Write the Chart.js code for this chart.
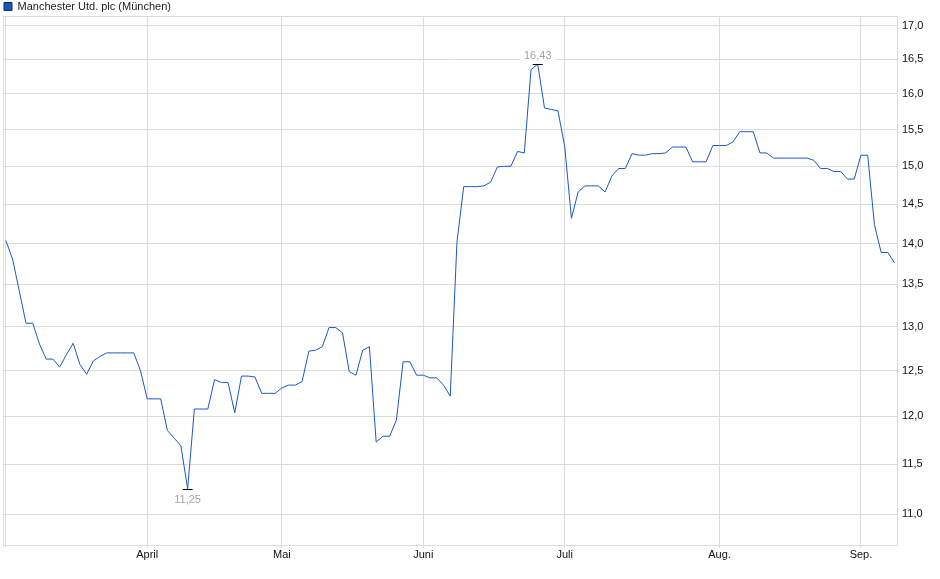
<!DOCTYPE html>
<html lang="de">
<head>
<meta charset="UTF-8">
<title>Manchester Utd. plc (München)</title>
<script src="https://cdn.jsdelivr.net/npm/chart.js"></script>
<style>
    body { margin: 0; background: #fff; }
    #wrap { width: 940px; height: 579px; }
</style>
</head>
<body>
<div id="wrap"><canvas id="chart" width="940" height="579"></canvas></div>
<script>
const seriesName = 'Manchester Utd. plc (München)';

// prices per trading day (index 0 = first day shown)
const prices = [
    14.04, 13.81, 13.42, 13.04, 13.04, 12.80, 12.63, 12.63, 12.54, 12.68,
    12.81, 12.57, 12.46, 12.61, 12.66, 12.70, 12.70, 12.70, 12.70, 12.70,
    12.50, 12.19, 12.19, 12.19, 11.85, 11.77, 11.69, 11.25, 12.08, 12.08,
    12.08, 12.40, 12.37, 12.37, 12.04, 12.44, 12.44, 12.43, 12.25, 12.25,
    12.25, 12.31, 12.34, 12.34, 12.38, 12.72, 12.73, 12.77, 12.99, 12.99,
    12.93, 12.49, 12.45, 12.73, 12.77, 11.73, 11.79, 11.79, 11.96, 12.60,
    12.60, 12.45, 12.45, 12.42, 12.42, 12.34, 12.22, 14.02, 14.73, 14.73,
    14.73, 14.74, 14.79, 14.99, 15.00, 15.00, 15.20, 15.18, 16.35, 16.43,
    15.80, 15.78, 15.76, 15.27, 14.32, 14.66, 14.74, 14.74, 14.74, 14.66,
    14.87, 14.97, 14.97, 15.17, 15.15, 15.15, 15.17, 15.17, 15.18, 15.26,
    15.26, 15.26, 15.06, 15.06, 15.06, 15.28, 15.28, 15.28, 15.33, 15.47,
    15.47, 15.47, 15.18, 15.18, 15.11, 15.11, 15.11, 15.11, 15.11, 15.11,
    15.08, 14.97, 14.97, 14.93, 14.93, 14.83, 14.83, 15.15, 15.15, 14.24,
    13.89, 13.89, 13.76
];

// first trading day of each month (index into prices) and its label
const monthStarts = [0, 21, 41, 62, 83, 106, 127];
const monthLabels = ['', 'April', 'Mai', 'Juni', 'Juli', 'Aug.', 'Sep.'];

const priceTicks = [11.0, 11.5, 12.0, 12.5, 13.0, 13.5, 14.0, 14.5, 15.0, 15.5, 16.0, 16.5, 17.0];

const fontFamily = "'Liberation Sans', Arial, sans-serif";
Chart.defaults.font.family = fontFamily;
Chart.defaults.font.size = 11;
Chart.defaults.color = '#222';

const fmt = (v, d) => v.toFixed(d).replace('.', ',');

// grey frame round the plot area
const framePlugin = {
    id: 'frame',
    beforeDatasetsDraw(chart) {
        const { ctx, chartArea: a } = chart;
        ctx.save();
        ctx.strokeStyle = '#dcdcdc';
        ctx.lineWidth = 1;
        ctx.strokeRect(Math.round(a.left) + 0.5, Math.round(a.top) + 0.5,
            Math.round(a.right - a.left) - 1, Math.round(a.bottom - a.top));
        ctx.restore();
    }
};

// high / low markers with value labels
const extremesPlugin = {
    id: 'extremes',
    afterDatasetsDraw(chart) {
        const { ctx, scales: { x, y } } = chart;
        const hi = prices.indexOf(Math.max(...prices));
        const lo = prices.indexOf(Math.min(...prices));
        ctx.save();
        ctx.font = '11px ' + fontFamily;
        ctx.textAlign = 'center';
        ctx.textBaseline = 'middle';
        [[hi, -9], [lo, 10.5]].forEach(([i, off]) => {
            const px = x.getPixelForValue(i);
            const py = Math.round(y.getPixelForValue(prices[i])) + 0.5;
            const label = fmt(prices[i], 2);
            const ty = py + off;
            const w = ctx.measureText(label).width + 8;
            ctx.fillStyle = '#fff';
            ctx.fillRect(px - w / 2, ty - 6, w, 11);
            ctx.fillStyle = '#a4a4a8';
            ctx.fillText(label, px, ty);
            ctx.strokeStyle = '#000';
            ctx.lineWidth = 1;
            ctx.beginPath();
            ctx.moveTo(px - 5, py);
            ctx.lineTo(px + 5, py);
            ctx.stroke();
        });
        ctx.restore();
    }
};

new Chart(document.getElementById('chart'), {
    type: 'line',
    data: {
        datasets: [{
            label: seriesName,
            data: prices.map((v, i) => ({ x: i, y: v })),
            borderColor: '#1a58c6',
            backgroundColor: '#1d56c0',
            borderWidth: 1,
            pointRadius: 0,
            tension: 0,
            fill: false
        }]
    },
    options: {
        responsive: false,
        animation: false,
        devicePixelRatio: 1,
        layout: { padding: { left: 3, top: 0, right: 0, bottom: 0 } },
        plugins: {
            tooltip: { enabled: false },
            legend: {
                position: 'top',
                align: 'start',
                maxHeight: 16,
                labels: {
                    boxWidth: 8,
                    boxHeight: 8,
                    padding: 1,
                    color: '#222',
                    font: { size: 11 },
                    generateLabels(chart) {
                        return Chart.defaults.plugins.legend.labels.generateLabels(chart).map(l => {
                            l.fillStyle = '#1d56c0';
                            l.strokeStyle = '#0c2d6e';
                            l.lineWidth = 1;
                            return l;
                        });
                    }
                }
            }
        },
        scales: {
            x: {
                type: 'linear',
                min: -0.42,
                max: 132.5,
                grid: { color: '#dcdcdc', tickLength: 3 },
                border: { display: false },
                ticks: {
                    autoSkip: false,
                    maxRotation: 0,
                    padding: 0,
                    color: '#111',
                    callback: (v) => {
                        const k = monthStarts.indexOf(v);
                        return k >= 0 ? monthLabels[k] : '';
                    }
                },
                afterBuildTicks: (axis) => {
                    axis.ticks = monthStarts.map(v => ({ value: v }));
                },
                afterFit: (s) => { s.height = 34; }
            },
            y: {
                type: 'logarithmic',
                position: 'right',
                min: 10.70,
                max: 17.152,
                grid: { color: '#dcdcdc', drawTicks: false },
                border: { display: false },
                ticks: {
                    padding: 4,
                    color: '#111',
                    callback: (v) => fmt(v, 1)
                },
                afterBuildTicks: (axis) => {
                    axis.ticks = priceTicks.map(v => ({ value: v }));
                },
                afterFit: (s) => { s.width = 42; }
            }
        }
    },
    plugins: [framePlugin, extremesPlugin]
});
</script>
</body>
</html>
